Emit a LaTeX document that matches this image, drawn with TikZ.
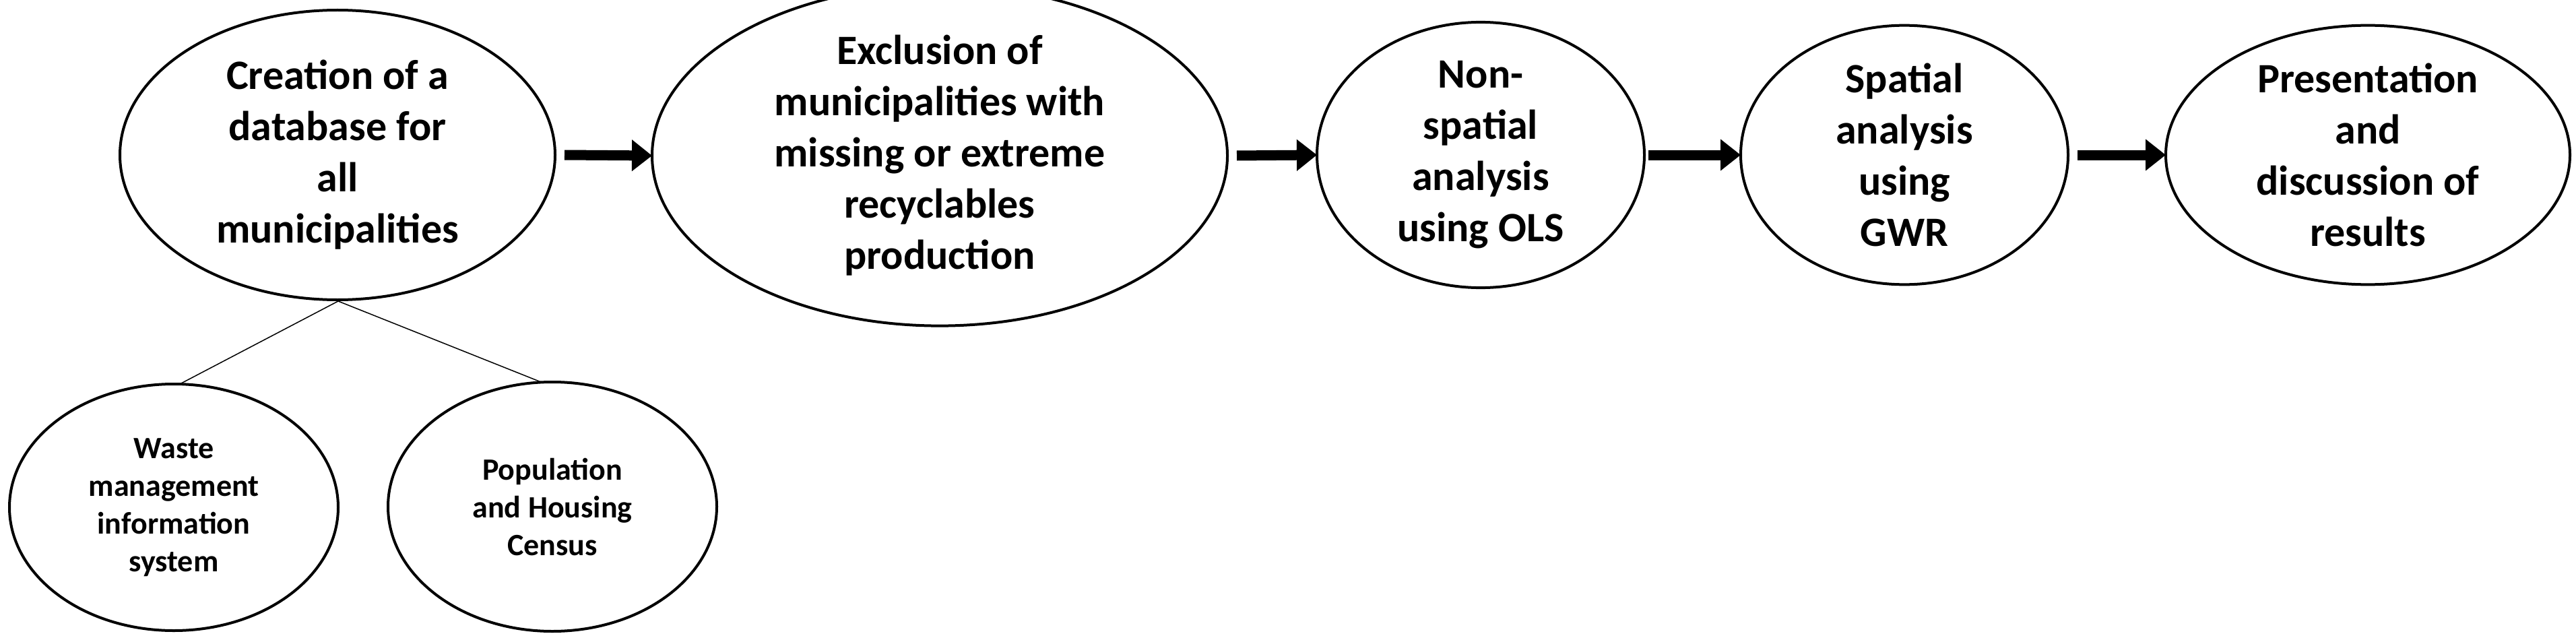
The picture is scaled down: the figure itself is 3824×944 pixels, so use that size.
\documentclass[tikz,border=0pt]{standalone}
\usepackage{fontspec}
\setmainfont{Carlito}
\usetikzlibrary{shapes.geometric,arrows.meta}
\begin{document}
\begin{tikzpicture}[x=1pt,y=-1pt,
  big/.style={ellipse,draw,line width=4pt,inner sep=0pt,align=center,font=\fontsize{62}{76}\selectfont\bfseries},
  small/.style={ellipse,draw,line width=4pt,inner sep=0pt,align=center,font=\fontsize{46}{56}\selectfont\bfseries},
  flow/.style={line width=15pt,-{Triangle[length=30pt,width=45pt]},shorten >=-2pt},
  link/.style={line width=1.5pt}]
\useasboundingbox (0,0) rectangle (3824,944);
\node[big,minimum width=646,minimum height=430] (a) at (501,230) {Creation of a\\database for\\all\\municipalities};
\node[big,minimum width=854,minimum height=428] (b) at (1395,231) {Exclusion of\\municipalities with\\missing or extreme\\recyclables\\production};
\node[big,minimum width=486,minimum height=370] (c) at (2198,230) {Non-\\spatial\\analysis\\using OLS};
\node[big,minimum width=486,minimum height=370] (d) at (2827,230) {Spatial\\analysis\\using\\GWR};
\node[big,minimum width=600,minimum height=370] (e) at (3515,230) {Presentation\\and\\discussion of\\results};
\node[small,minimum width=488,minimum height=366] (w) at (258,753) {Waste\\management\\information\\system};
\node[small,minimum width=488,minimum height=370] (p) at (820,752) {Population\\and Housing\\Census};
\coordinate (j) at (502,447);
\draw[flow] ([xshift=12pt]a.east) -- (b.west);
\draw[flow] ([xshift=12pt]b.east) -- (c.west);
\draw[flow] ([xshift=4pt]c.east) -- (d.west);
\draw[flow] ([xshift=12pt]d.east) -- (e.west);
\draw[link] (j) -- (267,570) coordinate (wt);
\draw[link] (j) -- (803,567) coordinate (pt);
\end{tikzpicture}
\end{document}
